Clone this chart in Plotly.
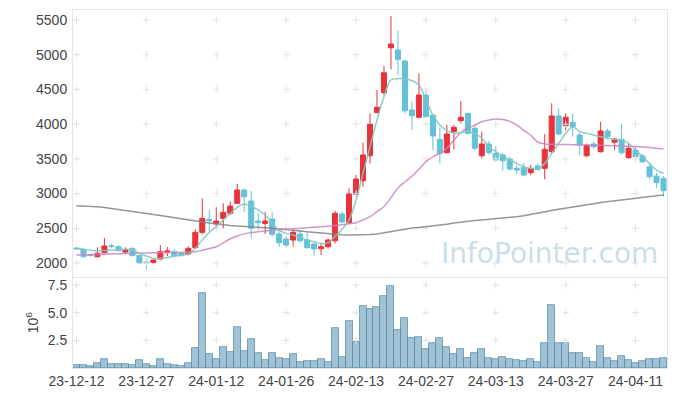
import plotly.graph_objects as go

dates = [
    "23-12-12", "23-12-13", "23-12-14", "23-12-15", "23-12-18", "23-12-19", "23-12-20", "23-12-21",
    "23-12-22", "23-12-26", "23-12-27", "23-12-28",
    "24-01-02", "24-01-03", "24-01-04", "24-01-05", "24-01-08", "24-01-09", "24-01-10", "24-01-11",
    "24-01-12", "24-01-15", "24-01-16", "24-01-17", "24-01-18", "24-01-19", "24-01-22", "24-01-23",
    "24-01-24", "24-01-25", "24-01-26", "24-01-29", "24-01-30", "24-01-31",
    "24-02-01", "24-02-02", "24-02-05", "24-02-06", "24-02-07", "24-02-08", "24-02-13", "24-02-14",
    "24-02-15", "24-02-16", "24-02-19", "24-02-20", "24-02-21", "24-02-22", "24-02-23", "24-02-26",
    "24-02-27", "24-02-28", "24-02-29",
    "24-03-04", "24-03-05", "24-03-06", "24-03-07", "24-03-08", "24-03-11", "24-03-12", "24-03-13",
    "24-03-14", "24-03-15", "24-03-18", "24-03-19", "24-03-20", "24-03-21", "24-03-22", "24-03-25",
    "24-03-26", "24-03-27", "24-03-28", "24-03-29",
    "24-04-01", "24-04-02", "24-04-03", "24-04-04", "24-04-05", "24-04-08", "24-04-09", "24-04-11",
    "24-04-12", "24-04-15", "24-04-16", "24-04-17",
]

opens = [2215, 2197, 2120, 2091, 2149, 2250, 2235, 2158, 2211, 2110, 2015, 2010, 2058, 2158, 2163, 2139,
         2130, 2221, 2442, 2630, 2562, 2643, 2715, 2860, 3051, 2893, 2605, 2571, 2634, 2418, 2346, 2331,
         2418, 2331, 2274, 2206, 2235, 2321, 2706, 2580, 2989, 3185, 3545, 4166, 4452, 5100, 5067, 4909,
         4203, 4098, 4419, 4131, 3781, 3588, 3891, 4050, 4155, 3940, 3545, 3714, 3579, 3555, 3498, 3363,
         3377, 3300, 3397, 3363, 3603, 4117, 3978, 4026, 3843, 3545, 3714, 3603, 3901, 3738, 3781, 3517,
         3627, 3541, 3387, 3253, 3220]
highs = [2230, 2205, 2140, 2226, 2360, 2280, 2260, 2226, 2230, 2115, 2067, 2050, 2259, 2230, 2200, 2160,
         2240, 2485, 2931, 2763, 2806, 2860, 2888, 3138, 3075, 3037, 2730, 2739, 2730, 2475, 2380, 2485,
         2466, 2437, 2288, 2288, 2355, 2754, 2739, 3075, 3267, 3733, 4155, 4491, 4837, 5557, 5346, 4920,
         4323, 4731, 4481, 4135, 3954, 3987, 3987, 4333, 4160, 3990, 3891, 3760, 3680, 3580, 3530, 3410,
         3440, 3411, 3440, 3858, 4300, 4228, 4155, 4155, 3880, 3720, 3750, 4035, 3940, 3800, 4002, 3720,
         3680, 3570, 3430, 3300, 3250]
lows = [2195, 2085, 2095, 2080, 2140, 2215, 2170, 2130, 2100, 1990, 1906, 1990, 2040, 2100, 2080, 2110,
        2110, 2210, 2413, 2464, 2500, 2500, 2691, 2850, 2739, 2355, 2475, 2418, 2379, 2235, 2230, 2235,
        2293, 2211, 2105, 2115, 2206, 2283, 2580, 2565, 2980, 3099, 3435, 4155, 4419, 4789, 4707, 4155,
        3915, 4083, 4100, 3627, 3436, 3580, 3637, 4011, 3850, 3620, 3508, 3560, 3460, 3329, 3330, 3280,
        3250, 3267, 3320, 3205, 3580, 3840, 3910, 3819, 3555, 3520, 3650, 3590, 3780, 3627, 3560, 3500,
        3500, 3440, 3200, 3085, 2955]
closes = [2205, 2091, 2110, 2140, 2245, 2240, 2177, 2187, 2105, 2004, 2005, 2043, 2163, 2173, 2105, 2105,
          2211, 2442, 2643, 2610, 2605, 2730, 2821, 3051, 2955, 2500, 2580, 2605, 2413, 2293, 2259, 2442,
          2322, 2221, 2202, 2235, 2331, 2715, 2590, 2994, 3210, 3555, 3997, 4242, 4740, 5154, 4933, 4193,
          4121, 4419, 4107, 3829, 3579, 3858, 3954, 4098, 3867, 3652, 3714, 3588, 3483, 3473, 3354, 3339,
          3267, 3363, 3349, 3637, 4117, 3858, 4098, 3963, 3699, 3694, 3675, 3901, 3819, 3786, 3588, 3652,
          3531, 3459, 3243, 3157, 3041]

ma_short = [2212, 2200, 2185, 2177, 2180, 2187, 2192, 2197, 2190, 2139, 2101, 2067, 2067, 2080, 2101, 2115,
            2130, 2211, 2331, 2442, 2523, 2619, 2715, 2802, 2850, 2821, 2763, 2691, 2572, 2475, 2427, 2403,
            2370, 2331, 2307, 2283, 2293, 2384, 2485, 2619, 2907, 3292, 3675, 4059, 4395, 4635, 4654, 4654,
            4625, 4563, 4347, 4131, 3987, 3905, 3867, 3877, 3887, 3867, 3795, 3675, 3603, 3541, 3483, 3435,
            3387, 3363, 3358, 3435, 3579, 3723, 3867, 3963, 3891, 3867, 3843, 3819, 3795, 3781, 3771, 3723,
            3627, 3531, 3435, 3339, 3292]
ma_mid = [2115, 2117, 2120, 2124, 2128, 2131, 2135, 2138, 2140, 2143, 2146, 2148, 2149, 2150, 2151, 2153,
          2156, 2163, 2185, 2210, 2235, 2290, 2350, 2390, 2420, 2437, 2450, 2462, 2472, 2480, 2485, 2492,
          2500, 2508, 2515, 2523, 2530, 2540, 2552, 2565, 2580, 2620, 2667, 2740, 2811, 2940, 3080, 3170,
          3250, 3350, 3459, 3530, 3580, 3652, 3771, 3880, 3940, 3985, 4035, 4060, 4074, 4065, 4040, 3990,
          3910, 3840, 3740, 3715, 3710, 3708, 3706, 3704, 3702, 3700, 3698, 3695, 3692, 3688, 3684, 3680,
          3676, 3670, 3662, 3652, 3642]
ma_long = [2825, 2822, 2818, 2812, 2800, 2787, 2775, 2760, 2745, 2730, 2715, 2700, 2686, 2672, 2658, 2643,
           2626, 2609, 2592, 2577, 2562, 2548, 2540, 2535, 2530, 2523, 2515, 2508, 2500, 2492, 2485, 2475,
           2462, 2450, 2440, 2430, 2420, 2412, 2406, 2403, 2403, 2405, 2410, 2418, 2435, 2455, 2475, 2490,
           2503, 2513, 2523, 2535, 2548, 2560, 2575, 2590, 2602, 2612, 2620, 2628, 2636, 2643, 2655, 2668,
           2682, 2698, 2715, 2735, 2755, 2775, 2793, 2811, 2826, 2840, 2855, 2870, 2883, 2895, 2908, 2920,
           2940, 2950, 2960, 2970, 2979]

volume = [0.24, 0.24, 0.18, 0.42, 0.78, 0.33, 0.33, 0.33, 0.24, 0.69, 0.33, 0.15, 0.78, 0.33, 0.24, 0.15,
          0.42, 1.78, 6.75, 1.23, 0.78, 1.87, 1.42, 3.67, 1.51, 2.59, 1.33, 0.69, 1.33, 0.87, 0.78, 1.23,
          0.51, 0.60, 0.60, 0.78, 0.51, 3.58, 0.96, 4.21, 2.35, 5.60, 5.30, 5.48, 6.50, 7.41, 3.40, 4.49,
          2.68, 2.77, 1.69, 2.23, 2.68, 1.87, 1.23, 1.69, 0.87, 1.33, 1.69, 0.87, 0.78, 0.96, 0.78, 0.69,
          0.60, 0.78, 0.51, 2.23, 5.66, 2.23, 2.23, 1.33, 1.33, 0.87, 0.51, 1.96, 0.87, 0.60, 1.05, 0.69,
          0.42, 0.60, 0.78, 0.78, 0.87]

x_ticks = ["23-12-12", "23-12-27", "24-01-12", "24-01-26", "24-02-13", "24-02-27", "24-03-13",
           "24-03-27", "24-04-11"]
price_ticks = [2000, 2500, 3000, 3500, 4000, 4500, 5000, 5500]
vol_ticks = [2.5, 5.0, 7.5]
vol_tick_text = ["2.5", "5.0", "7.5"]

FONT = "Liberation Sans, Arial, sans-serif"
RED = "#e8333b"
BLUE = "#63c1d8"
FRAME = "#e4e4e4"
TICKFONT = dict(family=FONT, size=14, color="#444")

fig = go.Figure()

# grid crosses
cx, cy = [], []
for t in x_ticks:
    for p in price_ticks:
        cx.append(t)
        cy.append(p)
fig.add_trace(go.Scatter(x=cx, y=cy, mode="markers", xaxis="x", yaxis="y", hoverinfo="skip",
                         marker=dict(symbol="cross-thin", size=5, line=dict(color="#e2e2e2", width=1)),
                         showlegend=False))
vx, vy = [], []
for t in x_ticks:
    for v in vol_ticks:
        vx.append(t)
        vy.append(v)
fig.add_trace(go.Scatter(x=vx, y=vy, mode="markers", xaxis="x2", yaxis="y2", hoverinfo="skip",
                         marker=dict(symbol="cross-thin", size=5, line=dict(color="#e2e2e2", width=1)),
                         showlegend=False))

fig.add_trace(go.Scatter(x=dates, y=ma_long, mode="lines", xaxis="x", yaxis="y",
                         line=dict(color="rgba(130,130,130,0.85)", width=1.5), showlegend=False))
fig.add_trace(go.Scatter(x=dates, y=ma_mid, mode="lines", xaxis="x", yaxis="y", line_shape="spline",
                         line=dict(color="rgba(200,130,195,0.85)", width=1.5), showlegend=False))
fig.add_trace(go.Scatter(x=dates, y=ma_short, mode="lines", xaxis="x", yaxis="y", line_shape="spline",
                         line=dict(color="rgba(130,200,188,0.9)", width=1.5), showlegend=False))

fig.add_trace(go.Candlestick(
    x=dates, open=opens, high=highs, low=lows, close=closes, xaxis="x", yaxis="y",
    increasing=dict(line=dict(color=RED, width=1), fillcolor=RED),
    decreasing=dict(line=dict(color=BLUE, width=1), fillcolor=BLUE),
    whiskerwidth=0, showlegend=False))

fig.add_trace(go.Bar(x=dates, y=volume, xaxis="x2", yaxis="y2", showlegend=False,
                     marker=dict(color="rgba(125,170,195,0.72)",
                                 line=dict(color="rgba(85,140,170,0.75)", width=1))))

# The page body adds an 8px offset, so the margins are reduced accordingly.
fig.update_layout(
    width=677, height=396,
    margin=dict(l=65, r=18, t=2, b=36, autoexpand=False),
    paper_bgcolor="white", plot_bgcolor="white",
    bargap=0, boxgap=0.28, boxgroupgap=0,
    font=dict(family=FONT, size=14, color="#444"),
    xaxis=dict(type="category", categoryorder="array", categoryarray=dates,
               range=[-0.5, len(dates) - 0.5], anchor="y", showticklabels=False, automargin=False,
               showgrid=False, zeroline=False, showline=True, mirror=True, linecolor=FRAME,
               rangeslider=dict(visible=False), ticks=""),
    xaxis2=dict(type="category", categoryorder="array", categoryarray=dates, matches="x",
                range=[-0.5, len(dates) - 0.5], anchor="y2", tickmode="array", automargin=False,
                tickvals=x_ticks, ticktext=x_ticks, showgrid=False, zeroline=False,
                showline=True, mirror=True, linecolor=FRAME, ticks="", tickangle=0,
                tickfont=TICKFONT),
    yaxis=dict(domain=[0.254, 1], range=[1798, 5643], tickmode="array", tickvals=price_ticks,
               showgrid=False, zeroline=False, showline=True, mirror=True, linecolor=FRAME,
               ticks="", tickfont=TICKFONT, automargin=False, ticklabelstandoff=2),
    yaxis2=dict(domain=[0, 0.251], range=[0, 8.13], tickmode="array", tickvals=vol_ticks,
                ticktext=vol_tick_text, showgrid=False, zeroline=False, showline=True,
                mirror=True, linecolor=FRAME, ticks="", tickfont=TICKFONT, automargin=False,
                ticklabelstandoff=2),
    annotations=[
        dict(text="InfoPointer.com", xref="paper", yref="paper", x=0.803, y=0.32,
             xanchor="center", yanchor="middle", showarrow=False,
             font=dict(family="DejaVu Sans", size=28, color="rgba(150,188,210,0.5)")),
        dict(text="10<sup>6</sup>", xref="paper", yref="paper", x=-0.069, y=0.128, textangle=-90,
             xanchor="center", yanchor="middle", showarrow=False,
             font=dict(family=FONT, size=14, color="#444")),
    ],
)

fig.write_html("out.html")
